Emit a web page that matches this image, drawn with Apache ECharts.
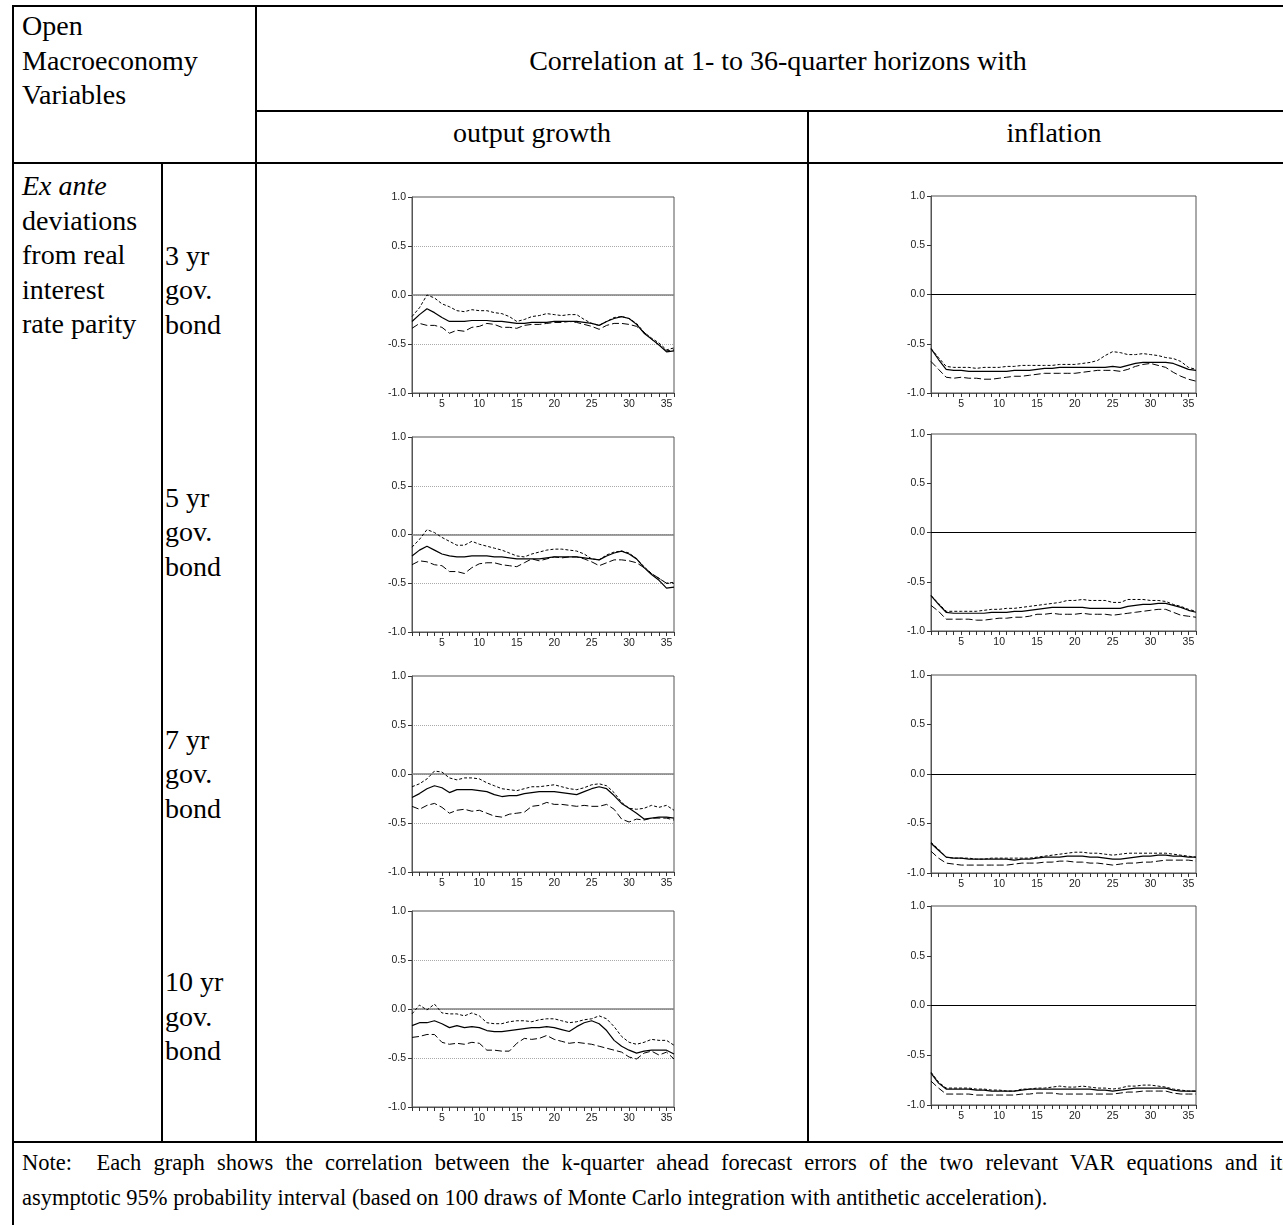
<!DOCTYPE html>
<html>
<head>
<meta charset="utf-8">
<title>Correlation of forecast errors: open macroeconomy variables</title>
<script src="https://cdn.jsdelivr.net/npm/echarts@6/dist/echarts.min.js"></script>
<style>
  html, body { margin: 0; padding: 0; background: #fff; }
  #page { position: relative; width: 1283px; height: 1225px; overflow: hidden; background: #fff; }
  .rule { position: absolute; background: #000; }
  .txt { position: absolute; font-family: 'Liberation Serif', 'Times New Roman', serif;
         font-size: 28px; line-height: 34.6px; color: #000; white-space: nowrap; }
  .center { text-align: center; }
  .note { position: absolute; font-family: 'Liberation Serif', 'Times New Roman', serif;
          font-size: 22.5px; line-height: 35px; color: #000; white-space: nowrap; }
  .justify { text-align: justify; text-align-last: justify; }
  #chart { position: absolute; left: 0; top: 0; width: 1283px; height: 1225px; }
</style>
</head>
<body>
<div id="page">
  <!-- table rules -->
  <div class="rule" style="left:12px;top:5px;width:1290px;height:2px"></div>
  <div class="rule" style="left:12px;top:5px;width:2px;height:1230px"></div>
  <div class="rule" style="left:255px;top:5px;width:2px;height:1138px"></div>
  <div class="rule" style="left:255px;top:110px;width:1045px;height:2px"></div>
  <div class="rule" style="left:807px;top:110px;width:2px;height:1033px"></div>
  <div class="rule" style="left:12px;top:162px;width:1290px;height:2px"></div>
  <div class="rule" style="left:161px;top:162px;width:2px;height:981px"></div>
  <div class="rule" style="left:12px;top:1141px;width:1290px;height:2px"></div>

  <!-- header cells -->
  <div class="txt" style="left:22px;top:9px">Open<br>Macroeconomy<br>Variables</div>
  <div class="txt center" style="left:256px;top:44px;width:1044px">Correlation at 1- to 36-quarter horizons with</div>
  <div class="txt center" id="colOg" style="left:256px;top:116px;width:552px"></div>
  <div class="txt center" id="colInf" style="left:808px;top:116px;width:492px"></div>

  <!-- row labels -->
  <div class="txt" style="left:22px;top:169px"><i>Ex ante</i><br>deviations<br>from real<br>interest<br>rate parity</div>
  <div id="rowLabels"></div>

  <!-- note -->
  <div class="note justify" style="left:22px;top:1145px;width:1269px">Note:&nbsp; Each graph shows the correlation between the k-quarter ahead forecast errors of the two relevant VAR equations and its</div>
  <div class="note" style="left:22px;top:1180px">asymptotic 95% probability interval (based on 100 draws of Monte Carlo integration with antithetic acceleration).</div>

  <div id="chart"></div>
</div>
<script>
// Forecast horizon in quarters
const horizons = [1,2,3,4,5,6,7,8,9,10,11,12,13,14,15,16,17,18,19,20,21,22,23,24,25,26,27,28,29,30,31,32,33,34,35,36];

// Column headings and bond maturities
const columnTitles = ['output growth', 'inflation'];
const bondLabels = ['3 yr', '5 yr', '7 yr', '10 yr'];

// Output growth vs. 3 yr bond deviations: estimate, upper and lower band
const og3Mid = [-0.27,-0.20,-0.14,-0.18,-0.23,-0.27,-0.27,-0.27,-0.26,-0.26,-0.26,-0.27,-0.27,-0.28,-0.29,-0.29,-0.28,-0.28,-0.28,-0.27,-0.27,-0.27,-0.27,-0.28,-0.29,-0.31,-0.27,-0.24,-0.22,-0.24,-0.30,-0.39,-0.45,-0.51,-0.58,-0.57];
const og3Hi  = [-0.22,-0.13,0.00,-0.03,-0.09,-0.12,-0.16,-0.17,-0.15,-0.16,-0.16,-0.18,-0.19,-0.22,-0.27,-0.25,-0.22,-0.21,-0.19,-0.20,-0.21,-0.20,-0.20,-0.25,-0.29,-0.31,-0.27,-0.23,-0.22,-0.24,-0.29,-0.38,-0.44,-0.49,-0.56,-0.54];
const og3Lo  = [-0.34,-0.29,-0.31,-0.31,-0.33,-0.39,-0.36,-0.37,-0.33,-0.32,-0.29,-0.30,-0.33,-0.33,-0.34,-0.31,-0.30,-0.30,-0.29,-0.28,-0.28,-0.27,-0.28,-0.30,-0.32,-0.35,-0.31,-0.29,-0.29,-0.30,-0.32,-0.38,-0.45,-0.51,-0.57,-0.56];

// Inflation vs. 3 yr bond deviations
const inf3Mid = [-0.55,-0.66,-0.76,-0.77,-0.77,-0.78,-0.78,-0.78,-0.78,-0.78,-0.78,-0.77,-0.77,-0.77,-0.76,-0.75,-0.75,-0.74,-0.74,-0.74,-0.74,-0.74,-0.74,-0.74,-0.73,-0.74,-0.72,-0.70,-0.69,-0.69,-0.69,-0.69,-0.70,-0.73,-0.76,-0.77];
const inf3Hi  = [-0.55,-0.64,-0.73,-0.74,-0.74,-0.74,-0.75,-0.74,-0.74,-0.74,-0.73,-0.73,-0.72,-0.72,-0.72,-0.72,-0.72,-0.71,-0.71,-0.71,-0.70,-0.69,-0.67,-0.62,-0.58,-0.59,-0.61,-0.61,-0.60,-0.61,-0.62,-0.64,-0.65,-0.68,-0.74,-0.76];
const inf3Lo  = [-0.68,-0.76,-0.84,-0.85,-0.84,-0.85,-0.85,-0.86,-0.86,-0.85,-0.84,-0.83,-0.83,-0.82,-0.81,-0.80,-0.80,-0.80,-0.80,-0.80,-0.79,-0.78,-0.77,-0.77,-0.77,-0.78,-0.76,-0.73,-0.71,-0.70,-0.72,-0.74,-0.79,-0.83,-0.86,-0.88];

// Output growth vs. 5 yr bond deviations
const og5Mid = [-0.22,-0.16,-0.12,-0.16,-0.20,-0.22,-0.23,-0.23,-0.22,-0.22,-0.22,-0.23,-0.23,-0.24,-0.25,-0.25,-0.25,-0.25,-0.24,-0.23,-0.23,-0.23,-0.23,-0.24,-0.25,-0.26,-0.22,-0.19,-0.17,-0.20,-0.25,-0.34,-0.41,-0.47,-0.55,-0.54];
const og5Hi  = [-0.13,-0.05,0.05,0.02,-0.03,-0.07,-0.11,-0.11,-0.07,-0.10,-0.12,-0.14,-0.16,-0.19,-0.22,-0.23,-0.20,-0.18,-0.16,-0.15,-0.15,-0.16,-0.17,-0.20,-0.25,-0.26,-0.21,-0.18,-0.17,-0.19,-0.25,-0.33,-0.40,-0.45,-0.50,-0.49];
const og5Lo  = [-0.31,-0.27,-0.28,-0.31,-0.32,-0.38,-0.38,-0.40,-0.34,-0.30,-0.29,-0.29,-0.31,-0.32,-0.33,-0.29,-0.25,-0.27,-0.25,-0.23,-0.24,-0.23,-0.23,-0.25,-0.28,-0.32,-0.29,-0.26,-0.26,-0.27,-0.29,-0.34,-0.40,-0.45,-0.50,-0.50];

// Inflation vs. 5 yr bond deviations
const inf5Mid = [-0.64,-0.73,-0.81,-0.82,-0.82,-0.82,-0.82,-0.82,-0.81,-0.81,-0.81,-0.80,-0.80,-0.79,-0.78,-0.77,-0.76,-0.76,-0.76,-0.76,-0.76,-0.77,-0.77,-0.77,-0.77,-0.77,-0.75,-0.74,-0.73,-0.73,-0.72,-0.72,-0.74,-0.76,-0.79,-0.81];
const inf5Hi  = [-0.64,-0.72,-0.80,-0.80,-0.80,-0.80,-0.80,-0.79,-0.78,-0.78,-0.77,-0.77,-0.76,-0.75,-0.74,-0.73,-0.72,-0.71,-0.69,-0.69,-0.68,-0.69,-0.69,-0.69,-0.71,-0.71,-0.68,-0.68,-0.68,-0.69,-0.69,-0.70,-0.73,-0.75,-0.78,-0.80];
const inf5Lo  = [-0.74,-0.80,-0.88,-0.88,-0.88,-0.88,-0.89,-0.89,-0.88,-0.87,-0.87,-0.86,-0.86,-0.85,-0.83,-0.83,-0.82,-0.83,-0.83,-0.83,-0.82,-0.83,-0.83,-0.83,-0.84,-0.83,-0.82,-0.81,-0.80,-0.79,-0.78,-0.78,-0.81,-0.84,-0.85,-0.86];

// Output growth vs. 7 yr bond deviations
const og7Mid = [-0.24,-0.20,-0.15,-0.12,-0.14,-0.19,-0.16,-0.16,-0.16,-0.17,-0.18,-0.21,-0.23,-0.22,-0.22,-0.20,-0.19,-0.18,-0.18,-0.18,-0.19,-0.20,-0.21,-0.18,-0.15,-0.13,-0.15,-0.22,-0.30,-0.35,-0.40,-0.46,-0.45,-0.44,-0.44,-0.45];
const og7Hi  = [-0.13,-0.10,-0.05,0.03,0.02,-0.04,-0.06,-0.04,-0.04,-0.05,-0.09,-0.12,-0.15,-0.16,-0.17,-0.15,-0.13,-0.13,-0.12,-0.11,-0.13,-0.15,-0.16,-0.14,-0.11,-0.10,-0.12,-0.19,-0.29,-0.35,-0.36,-0.35,-0.32,-0.34,-0.32,-0.37];
const og7Lo  = [-0.33,-0.36,-0.32,-0.30,-0.34,-0.40,-0.37,-0.36,-0.38,-0.37,-0.40,-0.43,-0.44,-0.41,-0.40,-0.39,-0.33,-0.32,-0.29,-0.31,-0.31,-0.32,-0.33,-0.32,-0.33,-0.33,-0.31,-0.36,-0.46,-0.49,-0.46,-0.47,-0.45,-0.45,-0.45,-0.47];

// Inflation vs. 7 yr bond deviations
const inf7Mid = [-0.70,-0.77,-0.84,-0.85,-0.85,-0.86,-0.86,-0.86,-0.86,-0.86,-0.86,-0.87,-0.86,-0.86,-0.85,-0.84,-0.84,-0.84,-0.83,-0.83,-0.83,-0.84,-0.84,-0.85,-0.86,-0.86,-0.85,-0.84,-0.83,-0.83,-0.82,-0.82,-0.83,-0.83,-0.84,-0.84];
const inf7Hi  = [-0.69,-0.76,-0.84,-0.85,-0.85,-0.85,-0.86,-0.86,-0.85,-0.85,-0.85,-0.85,-0.85,-0.85,-0.84,-0.83,-0.82,-0.81,-0.80,-0.79,-0.79,-0.80,-0.80,-0.81,-0.82,-0.81,-0.80,-0.80,-0.80,-0.80,-0.80,-0.80,-0.81,-0.82,-0.83,-0.84];
const inf7Lo  = [-0.78,-0.85,-0.90,-0.91,-0.92,-0.92,-0.92,-0.92,-0.92,-0.92,-0.92,-0.91,-0.90,-0.90,-0.90,-0.89,-0.89,-0.88,-0.88,-0.89,-0.89,-0.90,-0.90,-0.91,-0.92,-0.91,-0.90,-0.90,-0.89,-0.89,-0.88,-0.87,-0.87,-0.87,-0.87,-0.88];

// Output growth vs. 10 yr bond deviations
const og10Mid = [-0.17,-0.14,-0.14,-0.12,-0.15,-0.19,-0.17,-0.19,-0.18,-0.19,-0.22,-0.23,-0.23,-0.22,-0.21,-0.20,-0.19,-0.19,-0.18,-0.19,-0.21,-0.23,-0.18,-0.14,-0.12,-0.15,-0.22,-0.32,-0.38,-0.42,-0.45,-0.43,-0.42,-0.42,-0.42,-0.46];
const og10Hi  = [-0.05,0.04,-0.01,0.05,-0.04,-0.05,-0.05,-0.07,-0.04,-0.07,-0.14,-0.15,-0.15,-0.13,-0.12,-0.12,-0.13,-0.11,-0.10,-0.10,-0.12,-0.14,-0.13,-0.11,-0.10,-0.07,-0.10,-0.18,-0.28,-0.34,-0.36,-0.34,-0.31,-0.32,-0.32,-0.37];
const og10Lo  = [-0.29,-0.28,-0.26,-0.26,-0.34,-0.36,-0.35,-0.36,-0.34,-0.35,-0.42,-0.42,-0.43,-0.43,-0.35,-0.30,-0.31,-0.30,-0.27,-0.31,-0.33,-0.35,-0.34,-0.35,-0.36,-0.38,-0.40,-0.42,-0.44,-0.49,-0.51,-0.45,-0.43,-0.47,-0.44,-0.51];

// Inflation vs. 10 yr bond deviations
const inf10Mid = [-0.68,-0.78,-0.84,-0.84,-0.84,-0.84,-0.85,-0.85,-0.86,-0.86,-0.86,-0.86,-0.85,-0.84,-0.84,-0.84,-0.84,-0.84,-0.84,-0.84,-0.84,-0.84,-0.85,-0.85,-0.86,-0.85,-0.84,-0.83,-0.83,-0.83,-0.83,-0.83,-0.85,-0.86,-0.86,-0.86];
const inf10Hi  = [-0.67,-0.77,-0.83,-0.83,-0.83,-0.83,-0.84,-0.84,-0.85,-0.85,-0.86,-0.86,-0.84,-0.84,-0.83,-0.83,-0.82,-0.81,-0.82,-0.82,-0.81,-0.82,-0.83,-0.83,-0.84,-0.83,-0.81,-0.81,-0.80,-0.80,-0.81,-0.82,-0.84,-0.85,-0.86,-0.86];
const inf10Lo  = [-0.76,-0.83,-0.89,-0.89,-0.89,-0.89,-0.90,-0.90,-0.90,-0.90,-0.90,-0.90,-0.89,-0.89,-0.88,-0.88,-0.88,-0.89,-0.89,-0.89,-0.89,-0.89,-0.89,-0.89,-0.89,-0.88,-0.87,-0.87,-0.86,-0.86,-0.86,-0.86,-0.88,-0.89,-0.89,-0.89];

// Panels: which column each belongs to and its series
const panels = [
  { kind: 'og',  mid: og3Mid,   hi: og3Hi,   lo: og3Lo },
  { kind: 'inf', mid: inf3Mid,  hi: inf3Hi,  lo: inf3Lo },
  { kind: 'og',  mid: og5Mid,   hi: og5Hi,   lo: og5Lo },
  { kind: 'inf', mid: inf5Mid,  hi: inf5Hi,  lo: inf5Lo },
  { kind: 'og',  mid: og7Mid,   hi: og7Hi,   lo: og7Lo },
  { kind: 'inf', mid: inf7Mid,  hi: inf7Hi,  lo: inf7Lo },
  { kind: 'og',  mid: og10Mid,  hi: og10Hi,  lo: og10Lo },
  { kind: 'inf', mid: inf10Mid, hi: inf10Hi, lo: inf10Lo }
];

// Plot boxes on the page (left, top, width, height)
const boxes = [
  [412, 197, 262, 196], [931, 196, 265, 197],
  [412, 437, 262, 195], [931, 434, 265, 197],
  [412, 676, 262, 196], [931, 675, 265, 198],
  [412, 911, 262, 196], [931, 906, 265, 199]
];

// Header text and bond labels in the table
document.getElementById('colOg').textContent = columnTitles[0];
document.getElementById('colInf').textContent = columnTitles[1];
const labelTops = [238.5, 480.7, 722.9, 965.1];
const rowHolder = document.getElementById('rowLabels');
bondLabels.forEach(function (lab, i) {
  const d = document.createElement('div');
  d.className = 'txt';
  d.style.left = '165px';
  d.style.top = labelTops[i] + 'px';
  d.innerHTML = lab + '<br>gov.<br>bond';
  rowHolder.appendChild(d);
});

const axisFont = { fontFamily: 'Liberation Sans, Arial, sans-serif', fontSize: 10.5, color: '#222' };
const frameColor = '#555';

const grid = [], xAxis = [], yAxis = [], series = [];
panels.forEach(function (p, i) {
  const b = boxes[i];
  grid.push({ left: b[0], top: b[1], width: b[2], height: b[3], show: true,
              borderColor: frameColor, borderWidth: 1, backgroundColor: 'transparent' });
  xAxis.push({
    type: 'category', gridIndex: i, data: horizons, boundaryGap: false,
    axisLine: { show: true, onZero: false, lineStyle: { color: frameColor, width: 1 } },
    axisTick: { show: true, interval: 0, length: 4, lineStyle: { color: '#333' } },
    axisLabel: Object.assign({ margin: 6, interval: function (idx, val) { return Number(val) % 5 === 0; } }, axisFont),
    splitLine: { show: false }
  });
  yAxis.push({
    type: 'value', gridIndex: i, min: -1, max: 1, interval: 0.5,
    axisLine: { show: true, onZero: false, lineStyle: { color: frameColor, width: 1 } },
    axisTick: { show: true, length: 4, lineStyle: { color: '#333' } },
    axisLabel: Object.assign({ margin: 6, formatter: function (v) { return v.toFixed(1); } }, axisFont),
    splitLine: { show: p.kind === 'og', lineStyle: { type: 'dotted', color: '#aaa', width: 1 } }
  });
  const zeroStyle = p.kind === 'og'
    ? { color: '#808080', width: 1.6, type: 'solid' }
    : { color: '#000', width: 1, type: 'solid' };
  series.push({
    type: 'line', xAxisIndex: i, yAxisIndex: i, data: p.mid, symbol: 'none',
    lineStyle: { color: '#000', width: 1.2, type: 'solid' }, z: 3,
    markLine: { silent: true, symbol: ['none', 'none'], label: { show: false },
                lineStyle: zeroStyle, data: [{ yAxis: 0 }], z: 1 }
  });
  series.push({
    type: 'line', xAxisIndex: i, yAxisIndex: i, data: p.hi, symbol: 'none',
    lineStyle: { color: '#000', width: 1, type: [3, 2] }, z: 3
  });
  series.push({
    type: 'line', xAxisIndex: i, yAxisIndex: i, data: p.lo, symbol: 'none',
    lineStyle: { color: '#000', width: 1, type: [7, 3] }, z: 3
  });
});

const chart = echarts.init(document.getElementById('chart'), null, { renderer: 'canvas' });
chart.setOption({ animation: false, grid: grid, xAxis: xAxis, yAxis: yAxis, series: series });
</script>
</body>
</html>
